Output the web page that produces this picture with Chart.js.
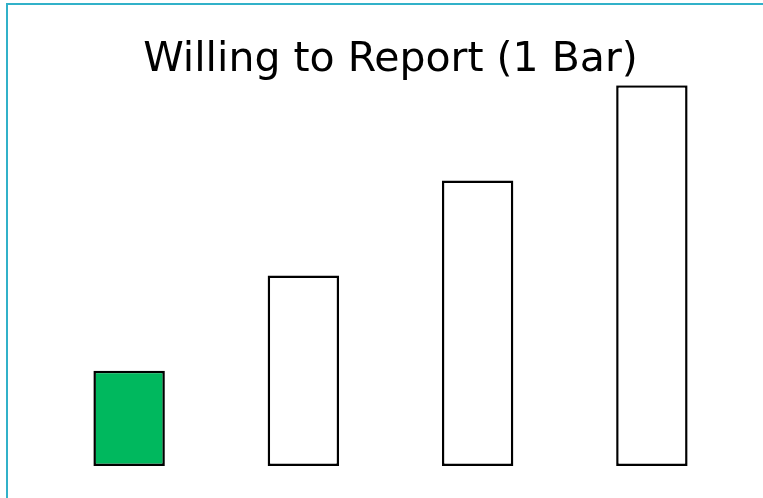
<!DOCTYPE html>
<html>
<head>
<meta charset="utf-8">
<script src="https://cdn.jsdelivr.net/npm/chart.js@4"></script>
<style>
  html, body { margin: 0; padding: 0; background: #fff; }
  .frame {
    position: absolute; left: 6px; top: 3px; right: 0; bottom: 0;
    border-left: 2px solid #31b1c9; border-top: 2px solid #31b1c9;
  }
  #chart { position: absolute; left: 0; top: 0; }
</style>
</head>
<body>
<div class="frame"></div>
<canvas id="chart" width="763" height="498"></canvas>
<script>
// bar groups and how many bars each one shows
const categories = ['1 Bar', '2 Bars', '3 Bars', '4 Bars'];
const barValues = [1, 2, 3, 4];
const fillColors = ['#00b85e', '#ffffff', '#ffffff', '#ffffff'];

new Chart(document.getElementById('chart'), {
  type: 'bar',
  data: {
    labels: categories,
    datasets: [{
      data: barValues,
      backgroundColor: fillColors,
      borderColor: '#000',
      borderWidth: 2.5,
      borderSkipped: false,
      categoryPercentage: 1,
      barPercentage: 0.41
    }]
  },
  options: {
    responsive: false,
    animation: false,
    layout: { padding: { left: 42, right: 24, top: 0, bottom: 32 } },
    plugins: {
      legend: { display: false },
      tooltip: { enabled: false },
      title: {
        display: true,
        text: 'Willing to Report (1 Bar)',
        color: '#000',
        font: { family: 'DejaVu Sans', size: 41, weight: 'normal', lineHeight: 1.2 },
        padding: { top: 36, bottom: 0 }
      }
    },
    scales: {
      x: { display: false },
      y: { display: false, min: 0, max: 4 }
    }
  }
});
</script>
</body>
</html>
